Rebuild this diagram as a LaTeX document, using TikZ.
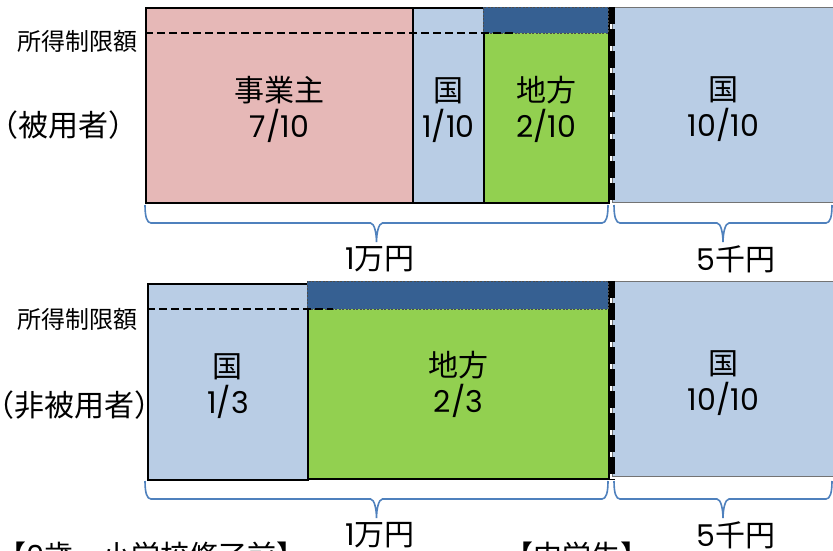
\documentclass[tikz,border=0pt]{standalone}
\usepackage{fontspec}
\setmainfont{Noto Sans CJK JP}
\newfontfamily\jp{Noto Sans CJK JP}
\newfontfamily\lat{Poppins}
\usetikzlibrary{calc}
\definecolor{pinkc}{HTML}{E6B8B7}
\definecolor{bluec}{HTML}{B9CDE5}
\definecolor{greenc}{HTML}{92D050}
\definecolor{darkc}{HTML}{366092}
\definecolor{bracec}{HTML}{4F81BD}
\newcommand{\tup}{\rule{0pt}{33pt}}
\newcommand{\mybrace}[2]{%
  \coordinate (bm) at ($(#1)!0.5!(#2)$);
  \draw[brc] (#1) .. controls +(0,12) and +(-4,0) .. ($(#1)+(6,18)$)
    -- ($(bm)+(-6,18)$) .. controls +(4,0) and +(0,-8) .. ($(bm)+(0,37)$)
    .. controls +(0,-8) and +(-4,0) .. ($(bm)+(6,18)$)
    -- ($(#2)+(-6,18)$) .. controls +(4,0) and +(0,12) .. (#2);}
\begin{document}
\begin{tikzpicture}[x=1pt,y=-1pt,
  box/.style={draw=black, line width=1.8pt, inner sep=0pt, anchor=north west,
    align=center, font=\fontsize{30}{36}\selectfont},
  rbox/.style={box, draw=black!55, line width=1pt},
  strip/.style={fill=darkc, draw=black!70, line width=0.6pt, dash pattern=on 2pt off 1.5pt,
    inner sep=0pt, anchor=north west},
  limit/.style={draw=black, line width=2pt, dash pattern=on 8pt off 4pt},
  thickdash/.style={draw=black, line width=6.5pt, dash pattern=on 17pt off 5pt},
  brc/.style={draw=bracec, line width=1.6pt},
  lim/.style={font=\fontsize{24}{27}\selectfont, inner sep=0pt, anchor=east},
  side/.style={font=\fontsize{30}{34}\selectfont, inner sep=0pt, anchor=west},
  amt/.style={font=\fontsize{30}{32}\selectfont, inner sep=0pt},
  foot/.style={font=\fontsize{29}{32}\selectfont, inner sep=0pt, anchor=base west}]
\useasboundingbox (0,0) rectangle (833,550);
\clip (0,0) rectangle (833,550);
\fill[white] (0,0) rectangle (833,550);
% side labels
\node[lim] (lim1) at (138,41) {所得制限額};
\node[side] (who1) at (-12,125) {（被用者）};
\node[lim] (lim2) at (138,319) {所得制限額};
\node[side] (who2) at (-16,405) {（非被用者）};
% top panel
\node[box, fill=pinkc, minimum width=267, minimum height=195] (emp) at (145,7) {\tup 事業主\\{\lat 7/10}};
\node[box, fill=bluec, minimum width=71, minimum height=195] (kuni1) at (412,7) {\tup 国\\{\lat 1/10}};
\node[box, fill=greenc, minimum width=125, minimum height=195] (chiho1) at (483,7) {\tup 地方\\{\lat 2/10}};
\node[strip, minimum width=125, minimum height=26] (strip1) at (483,7) {};
\node[rbox, fill=bluec, minimum width=222, minimum height=195] (kuni1r) at (612,7) {\tup 国\\{\lat 10/10}};
\coordinate (d1a) at (145,33);
\coordinate (d1b) at (517,33);
\draw[limit] (d1a) -- (d1b);
\draw[thickdash] (kuni1r.north west) -- ([yshift=-1pt]kuni1r.south west);
% bottom panel
\node[box, fill=bluec, minimum width=160, minimum height=196] (kuni2) at (147,283) {\tup 国\\{\lat 1/3}};
\node[box, fill=greenc, minimum width=301, minimum height=197] (chiho2) at (307,281) {\tup 地方\\{\lat 2/3}};
\node[strip, minimum width=301, minimum height=28] (strip2) at (307,281) {};
\node[rbox, fill=bluec, minimum width=222, minimum height=195] (kuni2r) at (612,281) {\tup 国\\{\lat 10/10}};
\coordinate (d2a) at (147,309);
\coordinate (d2b) at (333,309);
\draw[limit] (d2a) -- (d2b);
\draw[thickdash] (kuni2r.north west) -- ([yshift=-3pt]kuni2r.south west);
% braces
\coordinate (b1a) at (145,205);
\coordinate (b1b) at (608,205);
\coordinate (b1c) at (614,205);
\coordinate (b1d) at (832,205);
\mybrace{b1a}{b1b}
\mybrace{b1c}{b1d}
\coordinate (b2a) at (145,481);
\coordinate (b2b) at (608,481);
\coordinate (b2c) at (614,481);
\coordinate (b2d) at (832,481);
\mybrace{b2a}{b2b}
\mybrace{b2c}{b2d}
\node[amt] (m1) at (380,259) {{\lat 1}万円};
\node[amt] (k1) at (736,259) {{\lat 5}千円};
\node[amt] (m2) at (380,535) {{\lat 1}万円};
\node[amt] (k2) at (736,535) {{\lat 5}千円};
% footers
\node[foot] (f1) at (-3,566) {【{\lat 0}歳～小学校修了前】};
\node[foot] (f2) at (504,566) {【中学生】};
\end{tikzpicture}
\end{document}
